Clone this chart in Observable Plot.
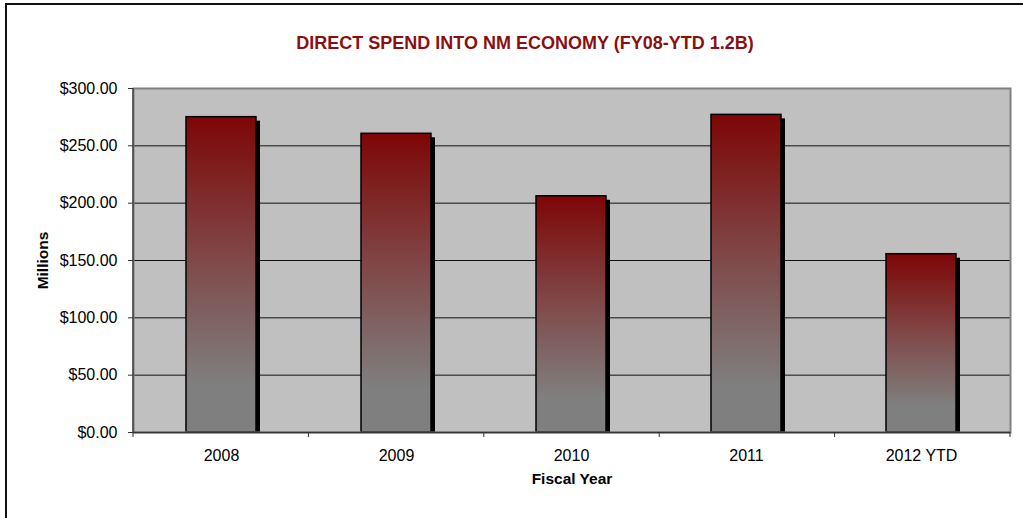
<!DOCTYPE html>
<html>
<head>
<meta charset="utf-8">
<script src="https://cdn.jsdelivr.net/npm/d3@7"></script>
<script src="https://cdn.jsdelivr.net/npm/@observablehq/plot@0.6"></script>
<style>
  html, body { margin: 0; padding: 0; background: #fff; }
  #chart { position: relative; width: 1023px; height: 518px; }
  #frame { position: absolute; left: 5px; top: 3px; width: 1030px; height: 530px; border: 2px solid #111; box-sizing: border-box; pointer-events: none; }
  svg { font-family: "Liberation Sans", Arial, sans-serif; }
</style>
</head>
<body>
<div id="chart"><div id="frame"></div></div>
<script>
const categories = ["2008", "2009", "2010", "2011", "2012 YTD"];
const values = [275, 260.5, 206, 277, 155.5];
const yTicks = [0, 50, 100, 150, 200, 250, 300];
const title = "DIRECT SPEND INTO NM ECONOMY (FY08-YTD 1.2B)";
const xLabel = "Fiscal Year";
const yLabel = "Millions";

const data = categories.map((c, i) => ({ year: c, value: values[i] }));

const defs = () => {
  const g = d3.create("svg:defs");
  const lg = g.append("linearGradient").attr("id", "barGrad").attr("x1", 0).attr("y1", 0).attr("x2", 0).attr("y2", 1);
  lg.append("stop").attr("offset", "0%").attr("stop-color", "#7e0606");
  lg.append("stop").attr("offset", "45%").attr("stop-color", "#804848");
  lg.append("stop").attr("offset", "85%").attr("stop-color", "#7f7f7f");
  lg.append("stop").attr("offset", "100%").attr("stop-color", "#7f7f7f");
  return g.node();
};

// category boundary ticks on the x axis, plus the dark left axis line
const axisLines = (index, scales, values, dims) => {
  const g = d3.create("svg:g");
  const n = categories.length;
  const x0 = dims.marginLeft, x1 = dims.width - dims.marginRight;
  const yt = dims.marginTop, yb = dims.height - dims.marginBottom;
  for (let i = 0; i <= n; i++) {
    const xx = x0 + (x1 - x0) * i / n;
    g.append("line").attr("x1", xx).attr("x2", xx).attr("y1", yb).attr("y2", yb + 5)
      .attr("stroke", "#333").attr("stroke-width", 1);
  }
  g.append("line").attr("x1", x0).attr("x2", x0).attr("y1", yt).attr("y2", yb)
    .attr("stroke", "#444").attr("stroke-width", 1.5);
  return g.node();
};

const chart = Plot.plot({
  width: 1023,
  height: 518,
  marginTop: 88,
  marginBottom: 86,
  marginLeft: 133,
  marginRight: 13,
  style: { background: "transparent", fontFamily: "Liberation Sans, Arial, sans-serif" },
  x: { domain: categories, paddingInner: 0.6, paddingOuter: 0.3, label: null },
  y: { domain: [0, 300], label: null },
  marks: [
    defs,
    Plot.frame({ fill: "#c0c0c0", stroke: "none" }),
    Plot.gridY(yTicks.filter(d => d > 0), { stroke: "#111", strokeOpacity: 1, strokeWidth: 1 }),
    Plot.barY(data, { x: "year", y: "value", fill: "#000", dx: 4, dy: 4, clip: "frame" }),
    Plot.barY(data, { x: "year", y: "value", fill: "url(#barGrad)", stroke: "#000", strokeWidth: 1.5 }),
    Plot.frame({ stroke: "#808080", strokeWidth: 2 }),
    Plot.ruleY([0], { stroke: "#333", strokeWidth: 1.5 }),
    axisLines,
    Plot.axisY(yTicks, {
      tickSize: 5, tickPadding: 11, fontSize: 16, fill: "#000", stroke: "#333",
      tickFormat: d => "$" + d.toFixed(2), label: null
    }),
    Plot.axisX({ tickSize: 0, tickPadding: 17, fontSize: 16, fill: "#000", label: null }),
    Plot.text([title], { frameAnchor: "top", dx: -47, dy: -52, fontSize: 18, fontWeight: "bold", fill: "#8b0f0f" }),
    Plot.text([xLabel], { frameAnchor: "bottom", dy: 51, fontSize: 15.5, fontWeight: "bold", fill: "#000" }),
    Plot.text([yLabel], { frameAnchor: "left", textAnchor: "middle", dx: -90, rotate: -90, fontSize: 15.5, fontWeight: "bold", fill: "#000" })
  ]
});

document.getElementById("chart").prepend(chart);
</script>
</body>
</html>
